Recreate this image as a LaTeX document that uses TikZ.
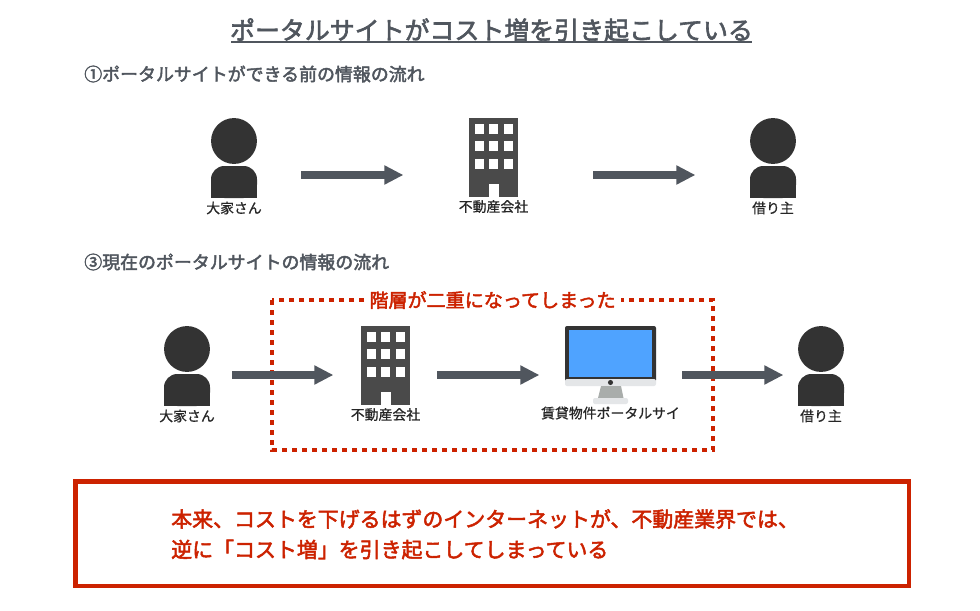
\documentclass[tikz,border=0pt]{standalone}
\usepackage{fontspec}
\setmainfont{Noto Sans CJK JP}
\newfontfamily\semifont[FakeBold=2.4]{Noto Sans CJK JP}
\newfontfamily\labelfont[FakeBold=0.8]{Noto Sans CJK JP}
\usetikzlibrary{arrows.meta}
\definecolor{slategray}{HTML}{50565E}
\definecolor{alertred}{HTML}{CC2200}
\definecolor{persondark}{HTML}{333333}
\definecolor{officedark}{HTML}{4A4A4A}
\definecolor{screenblue}{HTML}{4FA3FF}
\definecolor{chinlight}{HTML}{E4E6E8}
\definecolor{standgray}{HTML}{A9ADAB}
\tikzset{iconspot/.style={draw=none, fill=none, inner sep=0pt, minimum height=34.5pt, minimum width=#1}}
\tikzset{flowarrow/.style={draw=slategray, line width=5.6pt, -{Triangle[length=14.25pt,width=13.5pt]}}}
\tikzset{iconlabel/.style={text=black!85, font=\labelfont\fontsize{10.4}{12}\selectfont}}
\tikzset{titletext/.style={text=slategray, font=\semifont\fontsize{18.7}{22}\selectfont}}
\tikzset{headtext/.style={anchor=west, inner sep=0pt, text=slategray, font=\semifont\fontsize{13.45}{16}\selectfont}}
\tikzset{alerttext/.style={text=alertred, font=\semifont\fontsize{14.3}{17}\selectfont}}
\tikzset{boxtext/.style={anchor=west, inner sep=0pt, text=alertred, font=\semifont\fontsize{15.7}{19}\selectfont}}
% #1 name, #2 x, #3 top of the icon, #4 arrow height, #5 label
\newcommand{\personicon}[5]{
\begin{scope}[shift={(#2,#3)}]
\fill[persondark] (0,23) circle (17.2pt);
\fill[persondark, rounded corners=10pt] (-23,80) -- (-23,48) -- (23,48) -- (23,80) -- cycle;
\fill[persondark] (-23,66) rectangle (23,80);
\node[iconspot=34.5pt] (#1) at (0,#4) {};
\node[iconlabel] (#1label) at (0,90) {#5};
\end{scope}
}
\newcommand{\officeicon}[5]{
\begin{scope}[shift={(#2,#3)}]
\fill[officedark] (-24.5,0) rectangle (24.5,79);
\foreach \wy in {6,23,41} {
\foreach \wx in {-18.5,-4.5,10.5} {
\fill[white] (\wx,\wy) rectangle ++(8.5,9.5);
}
}
\fill[white] (-5,66) rectangle (5,79);
\node[iconspot=36.75pt] (#1) at (0,#4) {};
\node[iconlabel] (#1label) at (0,88.5) {#5};
\end{scope}
}
\begin{document}
\begin{tikzpicture}[x=0.75pt, y=-0.75pt]
\useasboundingbox (0,0) rectangle (980,610);
\fill[white] (0,0) rectangle (980,610);

\node[titletext, inner sep=0pt] (title) at (491.5,30) {ポータルサイトがコスト増を引き起こしている};
\draw[slategray, line width=1.1pt] (231,42) -- (752,42);

\node[headtext] (headone) at (84,74) {①ポータルサイトができる前の情報の流れ};
\node[headtext] (headtwo) at (84,262) {③現在のポータルサイトの情報の流れ};

\personicon{ownerone}{234}{118}{57}{大家さん}
\officeicon{officeone}{493.5}{118}{57}{不動産会社}
\personicon{tenantone}{773}{118}{57}{借り主}

\draw[flowarrow, shorten <=33pt, shorten >=49pt] (ownerone) -- (officeone);
\draw[flowarrow, shorten <=56.25pt, shorten >=40.75pt] (officeone) -- (tenantone);

%\draw[dotted] (272,300) rectangle (713,450);
\draw[alertred, line width=3.7pt, dash pattern=on 4pt off 3.5pt] (272,300) rectangle (713,450);
\node[alerttext, fill=white, inner sep=0pt, minimum width=192pt, minimum height=18pt] (stacked) at (492.5,300) {階層が二重になってしまった};

\personicon{ownertwo}{187}{326}{49}{大家さん}
\officeicon{officetwo}{385.5}{326}{49}{不動産会社}
\personicon{tenanttwo}{821}{326}{49}{借り主}

% monitor
\begin{scope}[shift={(610.5,326)}]
\fill[persondark, rounded corners=1.5pt] (-45.5,0) rectangle (45.5,56);
\fill[chinlight, rounded corners=1.5pt] (-45.5,53) rectangle (45.5,60);
\fill[screenblue] (-41.5,4) rectangle (41.5,51);
\fill[persondark] (0,56.5) circle (1.9pt);
\fill[standgray] (-9.5,60) -- (10.5,60) -- (13,72) -- (-12.5,72) -- cycle;
\fill[chinlight, rounded corners=1.5pt] (-17.5,72) rectangle (17.5,78);
\node[iconspot=68.25pt] (portal) at (0,49) {};
\node[iconlabel] (portallabel) at (0,87) {賃貸物件ポータルサイ};
\end{scope}

\draw[flowarrow, shorten <=16.5pt, shorten >=20.5pt] (ownertwo) -- (officetwo);
\draw[flowarrow, shorten <=20.25pt, shorten >=19pt] (officetwo) -- (portal);
\draw[flowarrow, shorten <=19.5pt, shorten >=10.75pt] (portal) -- (tenanttwo);

\draw[alertred, line width=3.4pt] (75.5,481.5) rectangle (909,586);
\node[boxtext] (boxlineone) at (171,519) {本来、コストを下げるはずのインターネットが、不動産業界では、};
\node[boxtext] (boxlinetwo) at (171,549.5) {逆に「コスト増」を引き起こしてしまっている};

\end{tikzpicture}
\end{document}
